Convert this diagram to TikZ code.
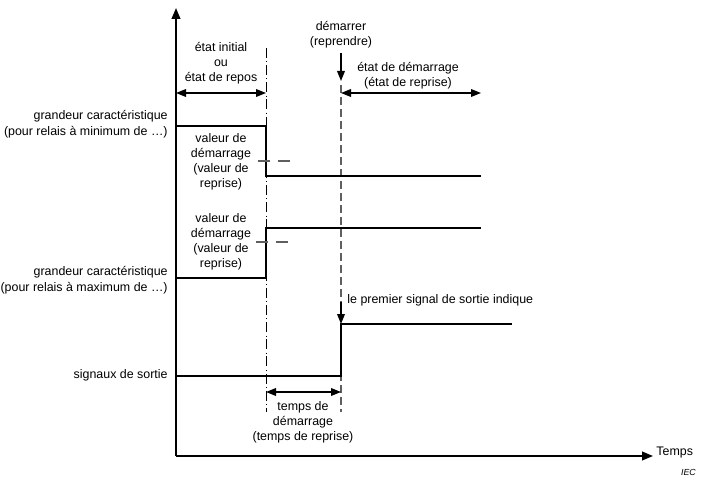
\documentclass[tikz,border=0pt]{standalone}
\usepackage{fontspec}
\setmainfont{Liberation Sans}
\usepackage{tikz}
\usetikzlibrary{arrows.meta,positioning}
\definecolor{markgray}{RGB}{95,95,95}
\tikzset{
    txt/.style={
        align=center,
        inner sep=1pt,
        font=\fontsize{10.6}{12.9}\selectfont
    },
    sidelabel/.style={txt, align=right, anchor=east, font=\fontsize{10.6}{13.6}\selectfont},
    axis/.style={-{Triangle[length=3.3mm,width=2.6mm]}, line width=1.6pt},
    signal/.style={line width=1.6pt},
    span/.style={{Triangle[length=3mm,width=2.3mm]}-{Triangle[length=3mm,width=2.3mm]}, line width=1.2pt},
    pointer/.style={-{Triangle[length=3mm,width=2.3mm]}, line width=1.2pt},
    chainline/.style={line width=0.6pt, dash pattern=on 3mm off 1mm on 0.4pt off 1mm},
    startline/.style={draw=markgray, line width=1pt, dash pattern=on 2.4mm off 1.2mm},
    levelmark/.style={draw=markgray, line width=1pt, dash pattern=on 3.6mm off 2.4mm},
}

\begin{document}
\begin{tikzpicture}[x=0.03cm, y=-0.03cm]
    \useasboundingbox (0,0) rectangle (703,484);

    \coordinate (O) at (176,456);
    \coordinate (ytip) at (176,8);
    \coordinate (xtip) at (653,456);
    \draw[axis] (O) -- (ytip);
    \draw[axis] (O) -- (xtip);
    \node[txt, anchor=west] (temps) at (655,453) {Temps};
    \node[font=\fontsize{7.5}{9}\selectfont\itshape, anchor=east, inner sep=0pt] (iec) at (696,472) {IEC};

    \coordinate (resttop) at (266,48);
    \coordinate (restbot) at (266,412);
    \coordinate (starttop) at (341,85);
    \coordinate (startbot) at (341,412);
    \draw[chainline] (resttop) -- (restbot);
    \draw[startline] (starttop) -- (startbot);

    \coordinate (restL) at (176,93);
    \coordinate (restR) at (266,93);
    \coordinate (pickL) at (341,93);
    \coordinate (pickR) at (481,93);
    \draw[span] (restL) -- (restR);
    \draw[span] (pickL) -- (pickR);
    \node[txt] (rest) at (221,63) {état initial\\ou\\état de repos};
    \node[txt] (pickstate) at (408,76) {état de démarrage\\(état de reprise)};

    \node[txt] (go) at (341,35) {démarrer\\(reprendre)};
    \coordinate (goend) at (341,81);
    \draw[pointer] (go.south |- 0,53) -- (goend);

    \coordinate (minA) at (176,126);
    \coordinate (minB) at (266,126);
    \coordinate (minC) at (266,176);
    \coordinate (minD) at (481,176);
    \draw[signal] (minA) -- (minB) -- (minC) -- (minD);
    \node[sidelabel] (minlab) at (169,124) {grandeur caractéristique\\(pour relais à minimum de …)};
    \node[txt] (minval) at (221,162) {valeur de\\démarrage\\(valeur de\\reprise)};
    \coordinate (minmarkL) at (258,161);
    \coordinate (minmarkR) at (291,161);
    \draw[levelmark] (minmarkL) -- (minmarkR);

    \coordinate (maxA) at (176,278);
    \coordinate (maxB) at (266,278);
    \coordinate (maxC) at (266,228);
    \coordinate (maxD) at (481,228);
    \draw[signal] (maxA) -- (maxB) -- (maxC) -- (maxD);
    \node[sidelabel] (maxlab) at (169,280) {grandeur caractéristique\\(pour relais à maximum de …)};
    \node[txt] (maxval) at (221,242) {valeur de\\démarrage\\(valeur de\\reprise)};
    \coordinate (maxmarkL) at (256,242);
    \coordinate (maxmarkR) at (291,242);
    \draw[levelmark] (maxmarkL) -- (maxmarkR);

    \coordinate (outA) at (176,376);
    \coordinate (outB) at (341,376);
    \coordinate (outC) at (341,324);
    \coordinate (outD) at (512,324);
    \draw[signal] (outA) -- (outB) -- (outC) -- (outD);
    \node[sidelabel] (outlab) at (169,375) {signaux de sortie};
    \coordinate (firsttop) at (341,302);
    \draw[pointer] (firsttop) -- (outC);
    \node[txt, anchor=west] (first) at (346,300) {le premier signal de sortie indique};

    \coordinate (delayL) at (266,392);
    \coordinate (delayR) at (341,392);
    \draw[span] (delayL) -- (delayR);
    \node[txt] (delay) at (303,422) {temps de\\démarrage\\(temps de reprise)};
\end{tikzpicture}
\end{document}
